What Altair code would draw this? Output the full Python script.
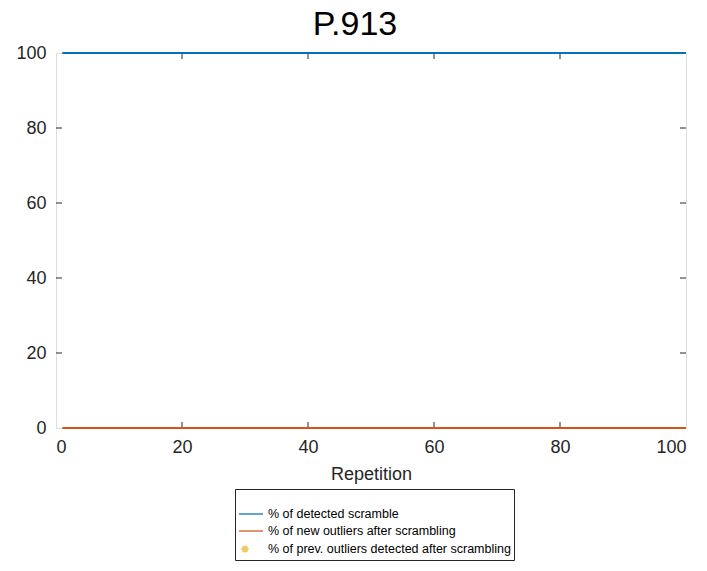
import altair as alt
import pandas as pd

# ---- data ----
repetition = list(range(1, 101))
detected_scramble = [100] * 100          # % of detected scramble
new_outliers = [0] * 100                 # % of new outliers after scrambling
series_labels = [
    "% of detected scramble",
    "% of new outliers after scrambling",
    "% of prev. outliers detected after scrambling",
]
series_colors = ["#0072BD", "#D95319", "#EDB120"]
x_ticks = [0, 20, 40, 60, 80, 100]
y_ticks = [0, 20, 40, 60, 80, 100]

rows = []
for r, v in zip(repetition, detected_scramble):
    rows.append({"rep": r, "value": v, "series": series_labels[0]})
for r, v in zip(repetition, new_outliers):
    rows.append({"rep": r, "value": v, "series": series_labels[1]})
df = pd.DataFrame(rows)

W, H = 630, 375
FONT = "Liberation Sans"
AX = "#262626"

xscale = alt.Scale(domain=[0, 100], nice=False)
yscale = alt.Scale(domain=[0, 100], nice=False)

x_axis = alt.Axis(values=x_ticks, ticks=False, domain=False, grid=False,
                  labelFontSize=18, labelPadding=10, labelColor=AX,
                  title="Repetition", titleFontSize=18, titleFontWeight="normal",
                  titleColor=AX, titlePadding=9, labelFont=FONT, titleFont=FONT)
y_axis = alt.Axis(values=y_ticks, ticks=False, domain=False, grid=False,
                  labelFontSize=18, labelPadding=10, labelColor=AX,
                  title=None, labelFont=FONT)

# legend symbols (custom paths, scaled by sqrt(size)/2 = 6 px per unit)
line_sym = "M-1,0L3,0"
asterisk = "M-0.6,0L0.6,0M0,-0.6L0,0.6M-0.42,-0.42L0.42,0.42M-0.42,0.42L0.42,-0.42"

legend_def = alt.Legend(orient="none", legendX=179, legendY=436,
                        direction="vertical", title=" ", titleFontSize=12,
                        titlePadding=3,
                        strokeColor=AX, fillColor="white",
                        padding=3, labelFontSize=12.5, labelFont=FONT,
                        labelColor="#000000", symbolSize=144,
                        symbolStrokeWidth=1.8, rowPadding=3,
                        labelOffset=16, labelLimit=400)

cscale = alt.Scale(domain=series_labels, range=series_colors)
sscale = alt.Scale(domain=series_labels, range=[line_sym, line_sym, asterisk])

lines = alt.Chart(df).mark_line(strokeWidth=2, clip=False).encode(
    x=alt.X("rep:Q", scale=xscale, axis=x_axis),
    y=alt.Y("value:Q", scale=yscale, axis=y_axis),
    color=alt.Color("series:N", scale=cscale, title=" ", legend=legend_def),
    detail="series:N",
)

legend_pts = alt.Chart(df).transform_filter(
    alt.datum.series == series_labels[2]
).mark_point(filled=False).encode(
    x=alt.X("rep:Q", scale=xscale),
    y=alt.Y("value:Q", scale=yscale),
    color=alt.Color("series:N", scale=cscale, title=" ", legend=legend_def),
    shape=alt.Shape("series:N", scale=sscale, title=" ", legend=legend_def),
)

xt = pd.DataFrame({"t": x_ticks[1:-1]})
yt = pd.DataFrame({"t": y_ticks[1:-1]})
tick_style = dict(color=AX, strokeWidth=1)
tb = alt.Chart(xt).mark_rule(**tick_style).encode(x=alt.X("t:Q", scale=xscale), y=alt.value(H), y2=alt.value(H - 6))
tt = alt.Chart(xt).mark_rule(**tick_style).encode(x=alt.X("t:Q", scale=xscale), y=alt.value(0), y2=alt.value(6))
tl = alt.Chart(yt).mark_rule(**tick_style).encode(y=alt.Y("t:Q", scale=yscale), x=alt.value(0), x2=alt.value(6))
tr = alt.Chart(yt).mark_rule(**tick_style).encode(y=alt.Y("t:Q", scale=yscale), x=alt.value(W), x2=alt.value(W - 6))

chart = alt.layer(tb, tt, tl, tr, lines, legend_pts).properties(
    width=W, height=H,
    title=alt.TitleParams("P.913", fontSize=34, font=FONT, fontWeight="normal",
                          color="#000000", anchor="middle", offset=2, dx=-16),
    autosize=alt.AutoSizeParams(type="none"),
    padding={"left": 56, "top": 53, "right": 21, "bottom": 143},
).configure_view(stroke=AX, strokeWidth=1).configure(background="white")

chart.save("out.html", embed_options={"renderer": "svg", "actions": False})
